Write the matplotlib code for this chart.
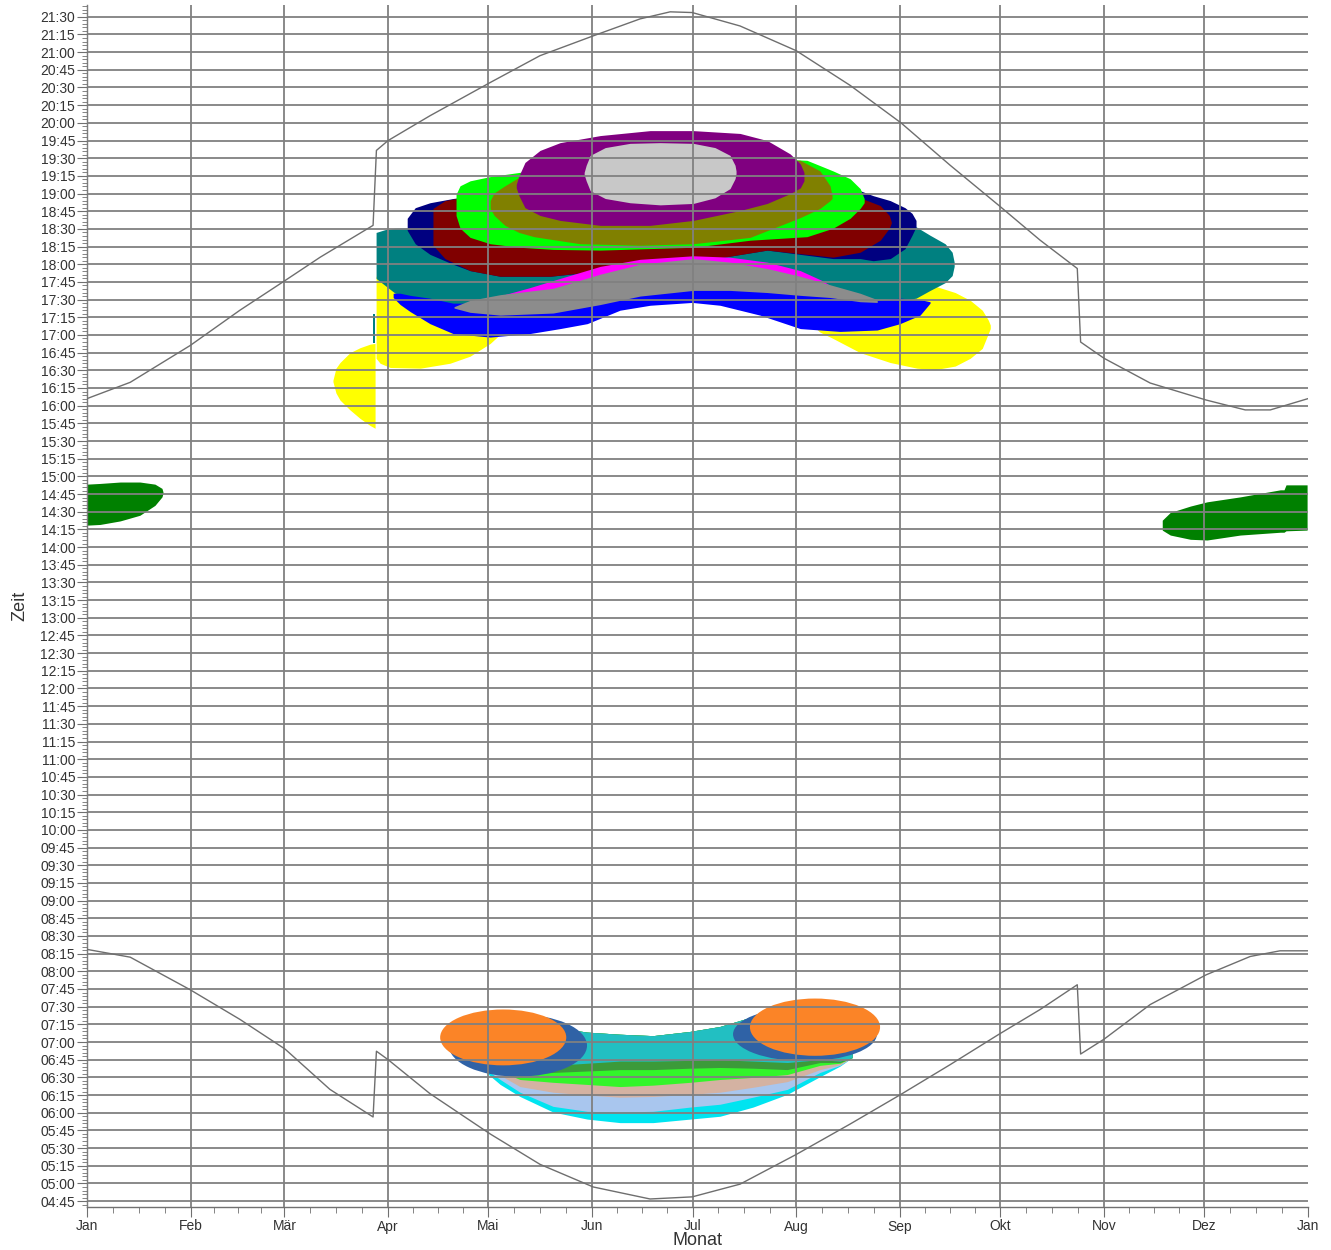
import matplotlib
matplotlib.use("Agg")
import matplotlib.pyplot as plt
from matplotlib.patches import Ellipse
from matplotlib.ticker import FixedLocator, FuncFormatter
import numpy as np

plt.rcParams['font.family'] = ['Liberation Sans', 'DejaVu Sans']

# Monatsanfaenge (Tag im Jahr) und Beschriftung
monat_tage = [0, 31, 59, 90, 120, 151, 181, 212, 243, 273, 304, 334, 365]
monat_namen = ["Jan", "Feb", "Mär", "Apr", "Mai", "Jun", "Jul", "Aug", "Sep", "Okt", "Nov", "Dez", "Jan"]

# Sonnenuntergang / Sonnenaufgang (Stunden, mit Zeitumstellung)
su_tage = [0, 12.9, 30.8, 45.7, 59.2, 69.7, 85.5, 86.5, 90.0, 102.5, 120.5, 135.4, 151.3, 165.3, 174.3, 180.9,
           195.2, 212.0, 228.1, 243.3, 258.0, 272.6, 284.9, 296.0, 297.0, 304.0, 317.8, 334.5, 346.2, 353.7, 365]
su_zeit = [16.10, 16.33, 16.85, 17.35, 17.77, 18.10, 18.55, 19.61, 19.75, 20.10, 20.57, 20.95, 21.23, 21.47, 21.57, 21.56,
           21.37, 21.02, 20.53, 20.00, 19.40, 18.83, 18.34, 17.94, 16.90, 16.67, 16.32, 16.08, 15.94, 15.94, 16.10]
sa_tage = [0, 12.9, 30.8, 45.7, 59.2, 72.6, 85.5, 86.5, 90.0, 102.5, 120.5, 135.4, 151.3, 168.3, 180.9,
           195.2, 212.0, 228.1, 243.3, 258.0, 272.6, 284.9, 296.0, 297.0, 304.0, 317.8, 334.5, 347.7, 356.6, 365]
sa_zeit = [8.31, 8.20, 7.74, 7.32, 6.90, 6.33, 5.94, 6.87, 6.75, 6.27, 5.70, 5.27, 4.95, 4.78, 4.81,
           4.99, 5.41, 5.84, 6.26, 6.68, 7.11, 7.46, 7.81, 6.83, 7.04, 7.53, 7.95, 8.21, 8.29, 8.29]

# Schattenzeiten abends: Tag, Beginn, Ende (Stunden)
gelb_vor_tage = [73.5, 74.4, 75.6, 78.6, 81.6, 84.6, 86.1]
gelb_vor_bis = [16.36, 16.53, 16.61, 16.75, 16.82, 16.87, 16.88]
gelb_vor_von = [16.34, 16.18, 16.08, 15.94, 15.82, 15.72, 15.68]

gelb_tage = [86.4, 87.6, 90.6, 99.6, 108.5, 114.5, 120.5, 123.5, 126.5]
gelb_bis = [17.83, 17.83, 17.83, 17.80, 17.74, 17.63, 17.52, 17.49, 17.42]
gelb_von = [16.67, 16.60, 16.54, 16.53, 16.60, 16.70, 16.88, 17.01, 17.14]

gelb_re_tage = [216.7, 219.1, 223.0, 231.1, 240.1, 248.1, 253.5, 259.5, 264.0, 267.6, 269.4, 270.0]
gelb_re_bis = [17.21, 17.28, 17.42, 17.56, 17.63, 17.67, 17.69, 17.60, 17.49, 17.35, 17.21, 17.14]
gelb_re_von = [17.14, 17.04, 16.95, 16.75, 16.61, 16.53, 16.51, 16.56, 16.67, 16.81, 17.02, 17.09]

petrol_vor_tage = [85.4, 86.1]
petrol_vor_bis = [17.30, 17.30]
petrol_vor_von = [16.88, 16.88]

petrol_tage = [86.4, 89.1, 92.1, 99.6, 109.4, 123.5, 138.4, 181.2, 213.2, 234.1, 243.0, 247.8, 252.0, 256.5, 258.6, 259.2]
petrol_bis = [18.45, 18.49, 18.51, 18.52, 18.53, 18.56, 18.62, 18.69, 18.69, 18.69, 18.69, 18.53, 18.41, 18.29, 18.17, 18.03]
petrol_von = [17.80, 17.70, 17.59, 17.52, 17.42, 17.42, 17.49, 17.56, 17.49, 17.46, 17.49, 17.52, 17.63, 17.74, 17.84, 17.97]

blau_tage = [91.5, 93.6, 96.6, 102.5, 109.4, 120.5, 132.4, 141.4, 149.5, 159.3, 168.3, 180.9, 189.2, 201.2,
             213.2, 225.1, 236.2, 243.0, 249.0, 252.0]
blau_bis = [17.59, 17.59, 17.56, 17.52, 17.45, 17.45, 17.63, 17.70, 17.80, 17.91, 17.98, 18.03, 17.98, 17.91,
            17.77, 17.63, 17.49, 17.52, 17.50, 17.47]
blau_von = [17.53, 17.43, 17.33, 17.16, 17.02, 16.97, 17.02, 17.09, 17.16, 17.35, 17.42, 17.46, 17.42, 17.28,
            17.09, 17.05, 17.07, 17.16, 17.28, 17.45]

marine_tage = [95.7, 98.1, 102.5, 109.4, 114.5, 123.5, 138.4, 181.2, 203.3, 223.0, 231.1, 235.0, 240.1, 244.5, 246.6, 247.8]
marine_bis = [18.65, 18.80, 18.87, 18.93, 18.96, 19.00, 19.07, 19.16, 19.14, 19.07, 19.04, 18.97, 18.90, 18.80, 18.72, 18.62]
marine_von = [18.48, 18.29, 18.14, 18.00, 17.91, 17.83, 17.83, 18.03, 18.20, 18.08, 18.08, 18.05, 18.08, 18.22, 18.41, 18.53]

rot_tage = [103.4, 107.0, 114.5, 123.5, 138.4, 153.4, 181.2, 203.3, 213.2, 223.0, 231.1, 237.1, 239.8, 240.4]
rot_bis = [18.79, 18.90, 18.97, 19.03, 19.10, 19.16, 19.18, 19.16, 19.10, 19.04, 18.94, 18.83, 18.69, 18.60]
rot_von = [18.27, 18.08, 17.91, 17.83, 17.83, 17.91, 18.03, 18.20, 18.15, 18.10, 18.17, 18.34, 18.51, 18.58]

hellgruen_tage = [110.3, 111.5, 114.5, 120.5, 129.4, 139.3, 153.4, 181.2, 198.2, 215.2, 223.0, 228.1, 231.1, 232.3]
hellgruen_bis = [18.99, 19.11, 19.18, 19.24, 19.30, 19.35, 19.42, 19.49, 19.51, 19.47, 19.32, 19.21, 19.07, 18.93]
hellgruen_von = [18.69, 18.51, 18.38, 18.29, 18.24, 18.21, 18.20, 18.24, 18.34, 18.39, 18.51, 18.65, 18.79, 18.87]

oliv_tage = [120.5, 121.7, 124.9, 129.1, 133.6, 147.4, 165.3, 181.2, 198.2, 213.2, 219.1, 222.1, 222.7]
oliv_bis = [18.90, 19.01, 19.11, 19.23, 19.30, 19.35, 19.40, 19.42, 19.47, 19.47, 19.32, 19.11, 18.97]
oliv_von = [18.79, 18.69, 18.55, 18.45, 18.39, 18.29, 18.27, 18.29, 18.38, 18.66, 18.79, 18.90, 18.93]

lila_tage = [128.3, 129.1, 130.9, 135.4, 141.4, 153.4, 168.3, 181.2, 195.2, 203.3, 210.2, 213.2, 214.3]
lila_bis = [19.13, 19.25, 19.44, 19.61, 19.72, 19.82, 19.89, 19.89, 19.85, 19.75, 19.56, 19.42, 19.30]
lila_von = [19.08, 18.97, 18.80, 18.69, 18.62, 18.55, 18.55, 18.62, 18.76, 18.86, 19.00, 19.08, 19.18]

silber_tage = [148.6, 149.2, 150.4, 154.9, 162.3, 171.3, 181.2, 187.7, 192.2, 193.7, 194.0]
silber_bis = [19.30, 19.40, 19.54, 19.65, 19.71, 19.72, 19.71, 19.65, 19.54, 19.40, 19.32]
silber_von = [19.27, 19.18, 19.04, 18.93, 18.87, 18.84, 18.86, 18.94, 19.07, 19.21, 19.28]

magenta_tage = [121.7, 132.4, 139.3, 153.4, 165.3, 181.2, 192.2, 203.3, 213.2, 219.7, 222.1]
magenta_bis = [17.53, 17.67, 17.77, 17.97, 18.07, 18.12, 18.10, 18.03, 17.91, 17.77, 17.70]
magenta_von = [17.49, 17.49, 17.56, 17.63, 17.70, 17.77, 17.77, 17.70, 17.63, 17.60, 17.60]

grau_tage = [109.7, 114.5, 123.5, 139.3, 153.4, 165.3, 181.2, 192.2, 203.3, 213.2, 222.1, 231.1, 236.2]
grau_bis = [17.40, 17.49, 17.57, 17.66, 17.86, 18.00, 18.08, 18.03, 17.94, 17.83, 17.71, 17.59, 17.50]
grau_von = [17.38, 17.32, 17.28, 17.31, 17.43, 17.55, 17.63, 17.63, 17.60, 17.56, 17.53, 17.47, 17.46]

# Schattenzeiten mittags (Winter)
gruen_li_tage = [0, 3.9, 9.9, 15.8, 20.3, 22.4, 22.7]
gruen_li_bis = [14.89, 14.90, 14.92, 14.92, 14.89, 14.83, 14.78]
gruen_li_von = [14.31, 14.32, 14.37, 14.45, 14.59, 14.71, 14.76]

gruen_re_tage = [321.4, 323.8, 329.8, 334.8, 344.7, 356.7, 357.8, 358.4, 364.7]
gruen_re_bis = [14.38, 14.49, 14.58, 14.64, 14.71, 14.81, 14.81, 14.88, 14.88]
gruen_re_von = [14.24, 14.17, 14.11, 14.10, 14.17, 14.21, 14.21, 14.23, 14.24]

# Schattenzeiten morgens
morgen_tage = [114.5, 117.5, 123.5, 129.4, 139.3, 149.5, 159.3, 169.2, 180.3, 189.2, 199.1, 209.3, 219.1, 225.1, 228.7]
morgen_bis = [6.81, 6.97, 7.11, 7.18, 7.21, 7.14, 7.11, 7.09, 7.15, 7.22, 7.36, 7.43, 7.43, 7.18, 6.90]
cyan_von = [6.73, 6.64, 6.40, 6.23, 6.01, 5.91, 5.86, 5.86, 5.91, 5.95, 6.08, 6.26, 6.51, 6.66, 6.78]
hellblau_von = [6.73, 6.67, 6.47, 6.29, 6.09, 6.02, 6.01, 6.02, 6.08, 6.12, 6.22, 6.33, 6.57, 6.67, 6.78]
hautfarbe_von = [6.74, 6.70, 6.53, 6.37, 6.29, 6.25, 6.22, 6.23, 6.26, 6.29, 6.36, 6.44, 6.61, 6.68, 6.78]
limette_von = [6.74, 6.73, 6.59, 6.47, 6.43, 6.40, 6.37, 6.39, 6.43, 6.47, 6.50, 6.54, 6.67, 6.70, 6.78]
dunkelgruen_von = [6.75, 6.74, 6.64, 6.54, 6.57, 6.59, 6.61, 6.61, 6.63, 6.64, 6.63, 6.61, 6.71, 6.71, 6.78]
tuerkis_von = [6.77, 6.77, 6.70, 6.64, 6.67, 6.70, 6.73, 6.73, 6.74, 6.75, 6.73, 6.71, 6.75, 6.73, 6.78]

# Ovale morgens: Mitte (Tag, Stunde), Breite (Tage), Hoehe (Stunden)
stahl_mitte = [(128.8, 6.95), (214.6, 7.11)]
stahl_breite = [41.3, 43.0]
stahl_hoehe = [0.88, 0.76]
orange_mitte = [(124.4, 7.065), (217.6, 7.21)]
orange_breite = [37.7, 38.9]
orange_hoehe = [0.79, 0.81]

fig = plt.figure(figsize=(13.31, 12.5), dpi=100)
ax = fig.add_axes([0.0654, 0.0344, 0.9174, 0.9616])

baender = [
    (gelb_vor_tage, gelb_vor_von, gelb_vor_bis, "#ffff00"),
    (gelb_tage, gelb_von, gelb_bis, "#ffff00"),
    (gelb_re_tage, gelb_re_von, gelb_re_bis, "#ffff00"),
    (petrol_vor_tage, petrol_vor_von, petrol_vor_bis, "#008080"),
    (petrol_tage, petrol_von, petrol_bis, "#008080"),
    (blau_tage, blau_von, blau_bis, "#0000ff"),
    (marine_tage, marine_von, marine_bis, "#000080"),
    (rot_tage, rot_von, rot_bis, "#800000"),
    (hellgruen_tage, hellgruen_von, hellgruen_bis, "#00ff00"),
    (oliv_tage, oliv_von, oliv_bis, "#808000"),
    (lila_tage, lila_von, lila_bis, "#800080"),
    (silber_tage, silber_von, silber_bis, "#c8c8c8"),
    (magenta_tage, magenta_von, magenta_bis, "#ff00ff"),
    (grau_tage, grau_von, grau_bis, "#8c8c8c"),
    (gruen_li_tage, gruen_li_von, gruen_li_bis, "#008000"),
    (gruen_re_tage, gruen_re_von, gruen_re_bis, "#008000"),
    (morgen_tage, cyan_von, morgen_bis, "#00e4f0"),
    (morgen_tage, hellblau_von, morgen_bis, "#a9c6ee"),
    (morgen_tage, hautfarbe_von, morgen_bis, "#d4b2a2"),
    (morgen_tage, limette_von, morgen_bis, "#33f52a"),
    (morgen_tage, dunkelgruen_von, morgen_bis, "#3c9a3a"),
    (morgen_tage, tuerkis_von, morgen_bis, "#22bfc2"),
]
for tage, von, bis, farbe in baender:
    ax.fill_between(tage, von, bis, color=farbe, linewidth=0, zorder=1)

for mitte, b, h in zip(stahl_mitte, stahl_breite, stahl_hoehe):
    ax.add_patch(Ellipse(mitte, b, h, color="#2f62a6", linewidth=0, zorder=1))
for mitte, b, h in zip(orange_mitte, orange_breite, orange_hoehe):
    ax.add_patch(Ellipse(mitte, b, h, color="#fb8427", linewidth=0, zorder=1))

ax.plot(su_tage, su_zeit, color="#6e6e6e", linewidth=1.0, zorder=3)
ax.plot(sa_tage, sa_zeit, color="#6e6e6e", linewidth=1.0, zorder=3)

ax.set_xlim(0, 365)
ax.set_ylim(4 + 40 / 60, 21 + 40 / 60)

# Achsen
ax.xaxis.set_major_locator(FixedLocator(monat_tage))
ax.set_xticklabels(monat_namen)
viertel = []
for i in range(12):
    laenge = monat_tage[i + 1] - monat_tage[i]
    viertel += [monat_tage[i] + k * laenge / 4 for k in (1, 2, 3)]
ax.xaxis.set_minor_locator(FixedLocator(viertel))

ax.yaxis.set_major_locator(FixedLocator(np.arange(4.75, 21.51, 0.25)))
ax.yaxis.set_minor_locator(FixedLocator(np.arange(4.70, 21.66, 0.05)))
ax.yaxis.set_major_formatter(FuncFormatter(lambda h, pos: f"{int(h):02d}:{int(round((h % 1) * 60)):02d}"))

ax.set_axisbelow(False)
ax.grid(which="major", color="#808080", linewidth=1.3)
ax.xaxis.get_gridlines()[-1].set_visible(False)

for s in ["top", "right"]:
    ax.spines[s].set_visible(False)
for s in ["left", "bottom"]:
    ax.spines[s].set_color("#707070")
    ax.spines[s].set_linewidth(1.0)

ax.tick_params(axis="both", which="both", colors="#707070", labelcolor="#333333", labelsize=10)
ax.tick_params(axis="x", which="major", length=7, pad=2)
ax.tick_params(axis="x", which="minor", length=4)
ax.tick_params(axis="y", which="major", length=7, pad=1.5)
ax.tick_params(axis="y", which="minor", length=3.5)

ax.set_xlabel("Monat", fontsize=13, color="#333333")
ax.set_ylabel("Zeit", fontsize=13, color="#333333")
ax.xaxis.set_label_coords(0.5, -0.0205)
ax.yaxis.set_label_coords(-0.048, 0.5)

fig.savefig("out.png", dpi=100, facecolor="white")
plt.close()
